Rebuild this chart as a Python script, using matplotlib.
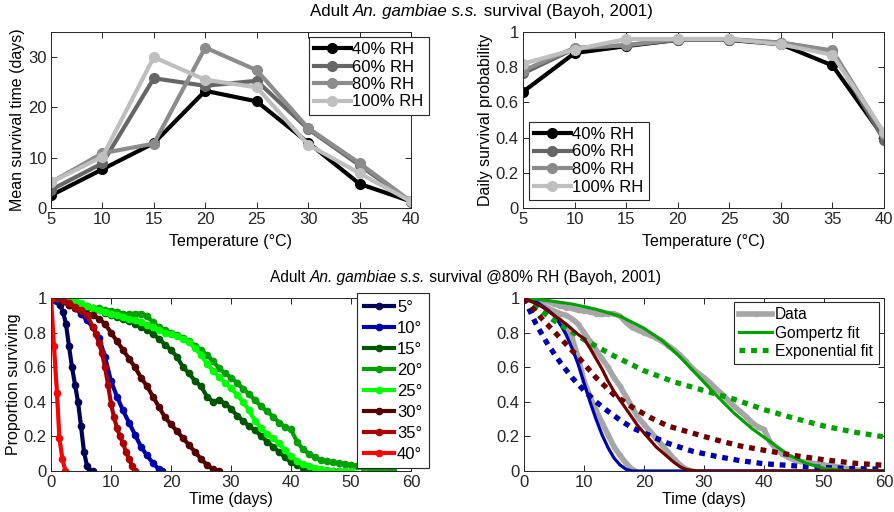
import matplotlib
matplotlib.use('Agg')
import matplotlib.pyplot as plt
from matplotlib.lines import Line2D

plt.rcParams['font.family'] = ['Liberation Sans', 'DejaVu Sans']
plt.rcParams['axes.edgecolor'] = '#262626'
plt.rcParams['xtick.color'] = '#262626'
plt.rcParams['ytick.color'] = '#262626'

# --- top row: survival vs temperature (Bayoh, 2001) ---
temps = [5, 10, 15, 20, 25, 30, 35, 40]
rh_labels = ['40% RH', '60% RH', '80% RH', '100% RH']
rh_colors = ['#000000', '#666666', '#8c8c8c', '#bfbfbf']

mean_40 = [2.5, 7.7, 12.9, 23.3, 21.2, 13.0, 4.8, 1.3]
mean_60 = [3.6, 8.9, 25.8, 24.3, 25.3, 15.7, 8.5, 1.2]
mean_80 = [5.1, 10.9, 12.8, 31.9, 27.4, 15.9, 8.9, 1.3]
mean_100 = [5.1, 10.2, 30.0, 25.5, 24.0, 12.6, 6.9, 1.3]

daily_40 = [0.66, 0.88, 0.92, 0.955, 0.955, 0.93, 0.81, 0.40]
daily_60 = [0.765, 0.905, 0.925, 0.955, 0.955, 0.94, 0.89, 0.385]
daily_80 = [0.78, 0.91, 0.925, 0.96, 0.96, 0.94, 0.895, 0.42]
daily_100 = [0.82, 0.90, 0.96, 0.96, 0.96, 0.93, 0.87, 0.43]

# --- bottom left: survival curves at 80% RH ---
t5 = [0, 0.5, 1, 1.5, 2, 2.5, 3, 3.5, 4, 4.5, 5, 5.5, 6, 6.5, 7]
s5 = [1, 0.99, 0.98, 0.96, 0.92, 0.85, 0.72, 0.60, 0.50, 0.40, 0.26, 0.11, 0.03, 0, 0]

t10 = list(range(19)) + [18.5]
s10 = [1, 0.99, 0.98, 0.96, 0.94, 0.91, 0.87, 0.83, 0.77, 0.66,
       0.52, 0.43, 0.35, 0.28, 0.21, 0.14, 0.09, 0.045, 0.01, 0]

t15 = list(range(50))
s15 = [1, 1, 0.99, 0.98, 0.97, 0.96, 0.95, 0.94, 0.93, 0.915,
       0.90, 0.89, 0.88, 0.865, 0.85, 0.835, 0.815, 0.79, 0.765, 0.73,
       0.70, 0.66, 0.60, 0.565, 0.52, 0.49, 0.43, 0.40, 0.41, 0.39,
       0.36, 0.32, 0.29, 0.26, 0.235, 0.205, 0.17, 0.14, 0.11, 0.08,
       0.05, 0.035, 0.02, 0.012, 0.006, 0.003, 0, 0, 0, 0]

t20 = list(range(58))
s20 = [1, 1, 1, 0.99, 0.98, 0.965, 0.955, 0.945, 0.94, 0.93,
       0.925, 0.92, 0.91, 0.905, 0.91, 0.91, 0.895, 0.86, 0.83, 0.815,
       0.80, 0.785, 0.77, 0.75, 0.725, 0.70, 0.67, 0.635, 0.595, 0.565,
       0.54, 0.51, 0.475, 0.445, 0.41, 0.375, 0.345, 0.315, 0.28, 0.255,
       0.24, 0.17, 0.125, 0.10, 0.08, 0.065, 0.055, 0.05, 0.045, 0.04,
       0.035, 0.03, 0.025, 0.02, 0.013, 0.008, 0.005, 0]

t25 = list(range(51))
s25 = [1, 1, 1, 0.995, 0.985, 0.97, 0.955, 0.94, 0.93, 0.92,
       0.91, 0.90, 0.89, 0.88, 0.87, 0.86, 0.845, 0.83, 0.815, 0.80,
       0.79, 0.78, 0.765, 0.745, 0.71, 0.67, 0.62, 0.58, 0.545, 0.51,
       0.48, 0.44, 0.40, 0.35, 0.29, 0.25, 0.215, 0.19, 0.16, 0.12,
       0.085, 0.06, 0.04, 0.03, 0.02, 0.01, 0.005, 0, 0, 0, 0]

t30 = list(range(29))
s30 = [1, 1, 0.98, 0.96, 0.94, 0.925, 0.91, 0.90, 0.88, 0.85,
       0.80, 0.75, 0.70, 0.65, 0.60, 0.54, 0.49, 0.43, 0.37, 0.31,
       0.27, 0.23, 0.19, 0.15, 0.11, 0.07, 0.035, 0.01, 0]

t35 = [0, 1, 1.5, 2, 3, 4, 5, 6, 7, 7.5, 8, 8.5, 9, 9.5, 10, 10.5, 11, 11.5, 12, 12.5, 13, 13.5, 14]
s35 = [1, 1, 1, 0.99, 0.97, 0.95, 0.93, 0.90, 0.83, 0.79, 0.74, 0.68, 0.60, 0.50, 0.39, 0.31,
       0.25, 0.20, 0.16, 0.11, 0.07, 0.03, 0]

t40 = [0, 0.5, 1, 1.4, 1.9, 2.4]
s40 = [1, 0.72, 0.45, 0.19, 0.07, 0]

curve_labels = ['5°', '10°', '15°', '20°', '25°', '30°', '35°', '40°']
curve_colors = ['#000055', '#0000aa', '#005500', '#00a000', '#00ff00', '#550000', '#aa0000', '#ff0000']

# --- bottom right: fits for 10, 20, 30 degrees ---
gomp_t10 = [0, 2, 4, 5, 6, 7, 8, 9, 10, 11, 12, 13, 14, 15, 16, 17, 18, 60]
gomp_s10 = [1, 0.98, 0.93, 0.90, 0.85, 0.79, 0.71, 0.62, 0.51, 0.40, 0.30, 0.21, 0.135, 0.075, 0.035, 0.01, 0, 0]
gomp_t20 = [0, 4, 8, 12, 16, 20, 23, 26, 29, 32, 35, 38, 41, 44, 47, 50, 53, 56, 60]
gomp_s20 = [1, 0.985, 0.965, 0.935, 0.895, 0.825, 0.755, 0.66, 0.55, 0.44, 0.335, 0.245, 0.17,
            0.095, 0.045, 0.015, 0.003, 0, 0]
gomp_t30 = [0, 3, 5, 7, 9, 10, 11, 12, 13, 14, 15, 16, 17, 18, 19, 20, 21, 22, 23, 24, 25, 26, 27, 28, 29, 60]
gomp_s30 = [1, 0.95, 0.90, 0.85, 0.79, 0.765, 0.71, 0.65, 0.59, 0.52, 0.46, 0.41, 0.36, 0.31, 0.26,
            0.22, 0.18, 0.14, 0.11, 0.08, 0.05, 0.025, 0.01, 0.003, 0, 0]

expo_t10 = [0, 2, 4, 6, 8, 10, 12, 14, 16, 18, 20, 24, 28, 32, 36, 40, 45, 50, 55, 60]
expo_s10 = [1, 0.85, 0.73, 0.63, 0.54, 0.465, 0.40, 0.345, 0.295, 0.25, 0.22, 0.16, 0.115,
            0.085, 0.06, 0.042, 0.03, 0.02, 0.014, 0.01]
expo_t20 = [0, 5, 10, 15, 20, 25, 30, 35, 40, 45, 50, 55, 60]
expo_s20 = [1, 0.87, 0.76, 0.665, 0.58, 0.515, 0.465, 0.415, 0.355, 0.305, 0.26, 0.225, 0.197]
expo_t30 = [0, 3, 6, 9, 12, 15, 18, 21, 24, 28, 32, 36, 40, 45, 50, 55, 60]
expo_s30 = [1, 0.88, 0.77, 0.66, 0.54, 0.44, 0.37, 0.31, 0.26, 0.22, 0.18, 0.145, 0.12, 0.09,
            0.065, 0.045, 0.033]

fit_colors = ['#0000aa', '#00a000', '#6e0000']
data_gray = '#a6a6a6'

fig = plt.figure(figsize=(8.95, 5.12), dpi=100)
W, H = 895, 512


def add_axes(x0, x1, y0, y1):
    # pixel box -> figure fraction
    return fig.add_axes([x0 / W, 1 - y1 / H, (x1 - x0) / W, (y1 - y0) / H])


def style(ax):
    ax.tick_params(direction='in', top=True, right=True, length=4, width=0.7, labelsize=12, pad=3)
    for s in ax.spines.values():
        s.set_linewidth(0.7)


legend_kw = dict(frameon=True, fancybox=False, edgecolor='#262626', framealpha=1,
                 borderaxespad=0)

ax1 = add_axes(51, 411, 32, 208)
ax2 = add_axes(523, 884, 32, 208)
ax3 = add_axes(51, 411, 298, 471)
ax4 = add_axes(524, 884, 298, 471)

# top left
for y, lab, c in zip([mean_40, mean_60, mean_80, mean_100], rh_labels, rh_colors):
    ax1.plot(temps, y, '-o', color=c, lw=3, ms=7, label=lab)
ax1.set_xlim(5, 40)
ax1.set_ylim(0, 35)
ax1.set_xticks(temps)
ax1.set_yticks([0, 10, 20, 30])
ax1.set_xlabel('Temperature (°C)', fontsize=11.5, labelpad=5)
ax1.set_ylabel('Mean survival time (days)', fontsize=11.5, labelpad=2)
style(ax1)
leg = ax1.legend(loc='upper left', bbox_to_anchor=(309 / W, 1 - 37 / H), bbox_transform=fig.transFigure,
                 fontsize=12, handlelength=2.2, labelspacing=0.15, handletextpad=0.1, borderpad=0.3,
                 **legend_kw)
leg.get_frame().set_linewidth(0.8)

# top right
for y, lab, c in zip([daily_40, daily_60, daily_80, daily_100], rh_labels, rh_colors):
    ax2.plot(temps, y, '-o', color=c, lw=3, ms=7, label=lab)
ax2.set_xlim(5, 40)
ax2.set_ylim(0, 1)
ax2.set_xticks(temps)
ax2.set_yticks([0, 0.2, 0.4, 0.6, 0.8, 1])
ax2.set_yticklabels(['0', '0.2', '0.4', '0.6', '0.8', '1'])
ax2.set_xlabel('Temperature (°C)', fontsize=11.5, labelpad=5)
ax2.set_ylabel('Daily survival probability', fontsize=11.5, labelpad=2)
style(ax2)
leg = ax2.legend(loc='upper left', bbox_to_anchor=(529 / W, 1 - 122 / H), bbox_transform=fig.transFigure,
                 fontsize=12, handlelength=2.2, labelspacing=0.15, handletextpad=0.1, borderpad=0.3,
                 **legend_kw)
leg.get_frame().set_linewidth(0.8)

# bottom left
curves = [(t5, s5), (t10, s10), (t15, s15), (t20, s20), (t25, s25), (t30, s30), (t35, s35), (t40, s40)]
for (t, s), lab, c in zip(curves, curve_labels, curve_colors):
    ax3.plot(t, s, '-o', color=c, lw=3, ms=4.5, label=lab)
ax3.set_xlim(0, 60)
ax3.set_ylim(0, 1)
ax3.set_yticks([0, 0.2, 0.4, 0.6, 0.8, 1])
ax3.set_yticklabels(['0', '0.2', '0.4', '0.6', '0.8', '1'])
ax3.set_xlabel('Time (days)', fontsize=11.5, labelpad=1)
ax3.set_ylabel('Proportion surviving', fontsize=11.5, labelpad=2)
style(ax3)
leg = ax3.legend(loc='upper left', bbox_to_anchor=(357 / W, 1 - 293 / H), bbox_transform=fig.transFigure,
                 fontsize=12, handlelength=1.8, labelspacing=0.36, handletextpad=0.2, borderpad=0.4,
                 **legend_kw)
leg.get_frame().set_linewidth(0.8)

# bottom right
for t, s in [(t10, s10), (t20, s20), (t30, s30)]:
    ax4.plot(t, s, '-o', color=data_gray, lw=4, ms=3, zorder=2)
fits = [(gomp_t10, gomp_s10, expo_t10, expo_s10),
        (gomp_t20, gomp_s20, expo_t20, expo_s20),
        (gomp_t30, gomp_s30, expo_t30, expo_s30)]
for (gt, gs, et, es), c in zip(fits, fit_colors):
    ax4.plot(gt, gs, '-', color=c, lw=2.3, zorder=3)
    ax4.plot(et, es, color=c, lw=3.8, ls=(0, (1.1, 1.1)), zorder=3)
ax4.set_xlim(0, 60)
ax4.set_ylim(0, 1)
ax4.set_yticks([0, 0.2, 0.4, 0.6, 0.8, 1])
ax4.set_yticklabels(['0', '0.2', '0.4', '0.6', '0.8', '1'])
ax4.set_xlabel('Time (days)', fontsize=11.5, labelpad=1)
style(ax4)
handles = [Line2D([], [], color=data_gray, lw=4, marker='o', ms=3),
           Line2D([], [], color=fit_colors[1], lw=2.3),
           Line2D([], [], color=fit_colors[1], lw=3.8, ls=(0, (1.1, 1.1)))]
leg = ax4.legend(handles, ['Data', 'Gompertz fit', 'Exponential fit'], loc='upper left',
                 bbox_to_anchor=(734 / W, 1 - 302 / H), bbox_transform=fig.transFigure,
                 fontsize=11.2, handlelength=2.1, labelspacing=0.2, handletextpad=0.2, borderpad=0.35,
                 **legend_kw)
leg.get_frame().set_linewidth(0.8)

# titles: plain and italic pieces set side by side
renderer = fig.canvas.get_renderer()


def chain_title(x_px, y_base_px, pieces, size):
    x = x_px
    for s, st in pieces:
        t = fig.text(x / W, 1 - y_base_px / H, s, fontstyle=st, fontsize=size,
                     ha='left', va='baseline')
        x += t.get_window_extent(renderer).width


top_title = [('Adult ', 'normal'), ('An. gambiae s.s.', 'italic'), (' survival (Bayoh, 2001)', 'normal')]
bottom_title = [('Adult ', 'normal'), ('An. gambiae s.s.', 'italic'),
                (' survival @80% RH (Bayoh, 2001)', 'normal')]
chain_title(310, 16, top_title, 12.2)
chain_title(270, 282, bottom_title, 11.2)

fig.savefig('out.png', dpi=100)
